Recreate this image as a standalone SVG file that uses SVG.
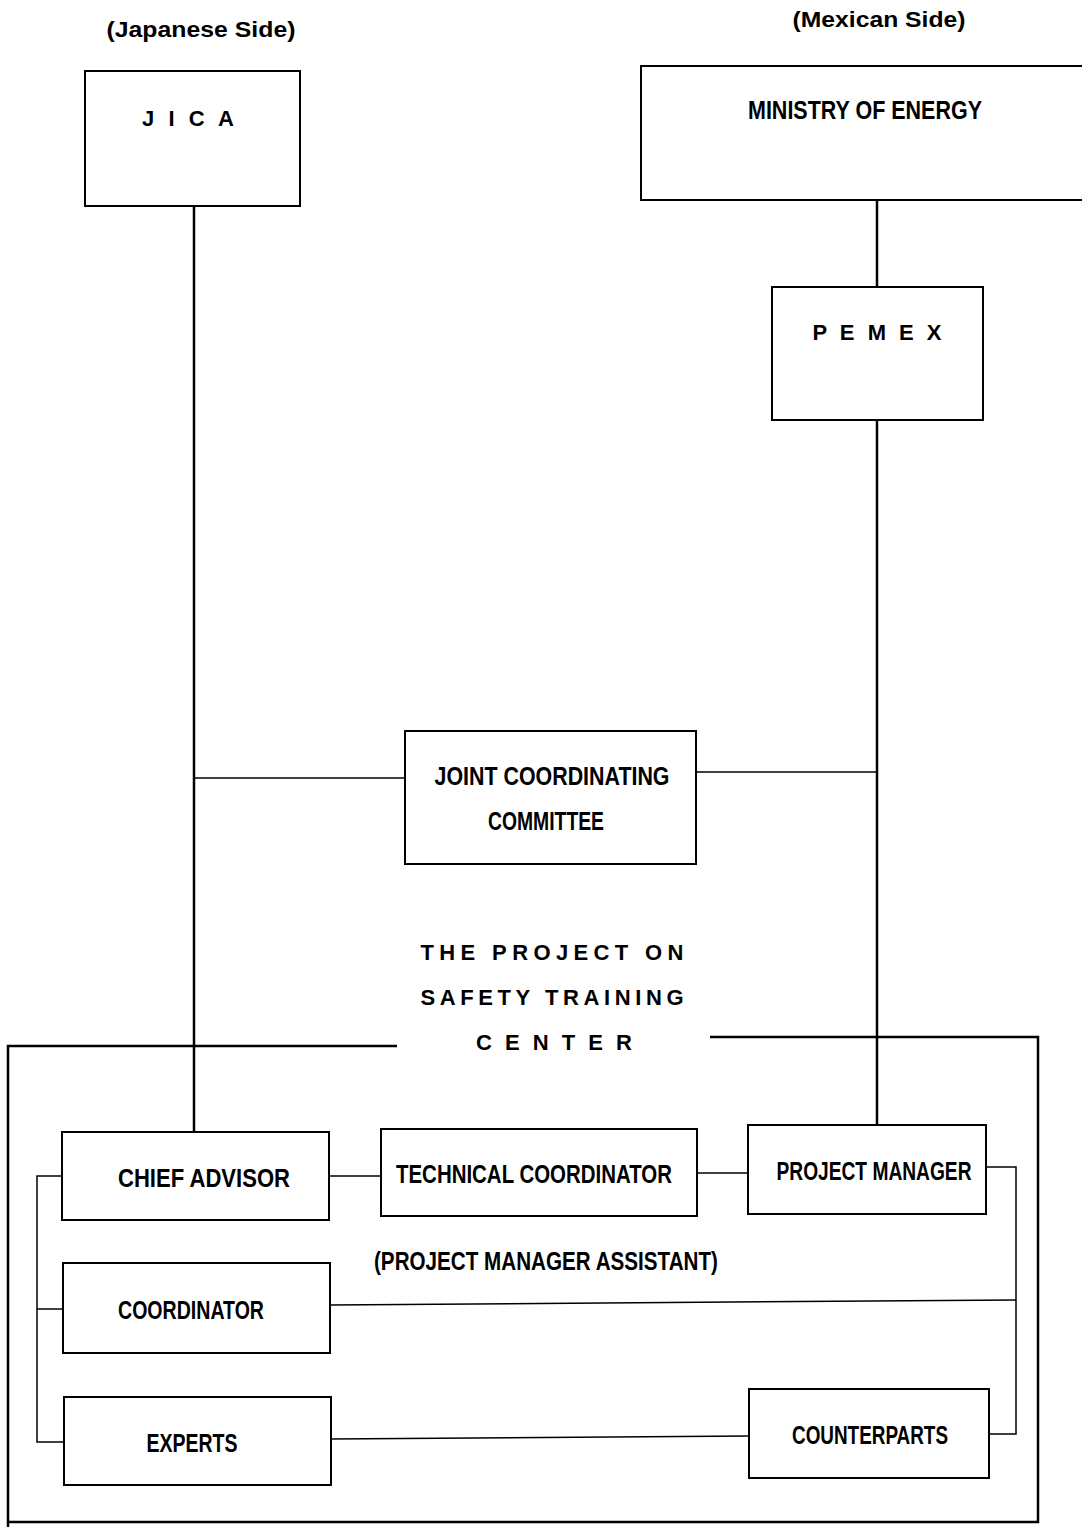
<svg xmlns="http://www.w3.org/2000/svg" width="1082" height="1527" viewBox="0 0 1082 1527">
<style>
.box{fill:#fff;stroke:#000;stroke-width:2}
.t{font-family:"Liberation Sans",Arial,sans-serif;font-weight:bold;font-size:25px;fill:#000;text-anchor:middle}
.s{font-size:22px}
.c{fill:none;stroke:#000;stroke-width:1.5}
.v{fill:none;stroke:#000;stroke-width:2.5}
</style>
<rect width="1082" height="1527" fill="#fff"/>
<g id="labels">
<text class="t s" x="201" y="37" textLength="189" lengthAdjust="spacingAndGlyphs">(Japanese Side)</text>
<text class="t s" x="879" y="27" textLength="173" lengthAdjust="spacingAndGlyphs">(Mexican Side)</text>
<text class="t s" x="552" y="960" textLength="263" lengthAdjust="spacing">THE PROJECT ON</text>
<text class="t s" x="552" y="1005" textLength="263" lengthAdjust="spacing">SAFETY TRAINING</text>
<text class="t s" x="554" y="1050" textLength="156" lengthAdjust="spacing">C E N T E R</text>
<text class="t" x="546" y="1270" textLength="344" lengthAdjust="spacingAndGlyphs">(PROJECT MANAGER ASSISTANT)</text>
</g>
<g id="connectors">
<line class="v" x1="194" y1="206" x2="194" y2="1132"/>
<line class="v" x1="877" y1="200" x2="877" y2="287"/>
<line class="v" x1="877" y1="420" x2="877" y2="1126"/>
<line class="c" x1="194" y1="778" x2="405" y2="778"/>
<line class="c" x1="696" y1="772" x2="877" y2="772"/>
<polyline class="v" points="397,1046 8,1046 8,1527"/>
<polyline class="v" points="710,1037 1038,1037 1038,1522 8,1522"/>
<line class="c" x1="329" y1="1176" x2="381" y2="1176"/>
<line class="c" x1="697" y1="1173" x2="748" y2="1173"/>
<polyline class="c" points="986,1167 1016,1167 1016,1434 989,1434"/>
<line class="c" x1="330" y1="1305" x2="1016" y2="1300"/>
<line class="c" x1="331" y1="1439" x2="749" y2="1436"/>
<polyline class="c" points="62,1176 37,1176 37,1442 64,1442"/>
<line class="c" x1="37" y1="1309" x2="63" y2="1309"/>
</g>
<g id="jica">
<rect class="box" x="85" y="71" width="215" height="135"/>
<text class="t s" x="188" y="126" textLength="92" lengthAdjust="spacing">J I C A</text>
</g>
<g id="ministry">
<rect class="box" x="641" y="66" width="460" height="134"/>
<text class="t" x="865" y="119" textLength="234" lengthAdjust="spacingAndGlyphs">MINISTRY OF ENERGY</text>
</g>
<g id="pemex">
<rect class="box" x="772" y="287" width="211" height="133"/>
<text class="t s" x="877" y="340" textLength="129" lengthAdjust="spacing">P E M E X</text>
</g>
<g id="jcc">
<rect class="box" x="405" y="731" width="291" height="133"/>
<text class="t" x="552" y="785" textLength="235" lengthAdjust="spacingAndGlyphs">JOINT COORDINATING</text>
<text class="t" x="546" y="830" textLength="116" lengthAdjust="spacingAndGlyphs">COMMITTEE</text>
</g>
<g id="chief-advisor">
<rect class="box" x="62" y="1132" width="267" height="88"/>
<text class="t" x="204" y="1187" textLength="172" lengthAdjust="spacingAndGlyphs">CHIEF ADVISOR</text>
</g>
<g id="technical-coordinator">
<rect class="box" x="381" y="1129" width="316" height="87"/>
<text class="t" x="534" y="1183" textLength="276" lengthAdjust="spacingAndGlyphs">TECHNICAL COORDINATOR</text>
</g>
<g id="project-manager">
<rect class="box" x="748" y="1125" width="238" height="89"/>
<text class="t" x="874" y="1180" textLength="195" lengthAdjust="spacingAndGlyphs">PROJECT MANAGER</text>
</g>
<g id="coordinator">
<rect class="box" x="63" y="1263" width="267" height="90"/>
<text class="t" x="191" y="1319" textLength="146" lengthAdjust="spacingAndGlyphs">COORDINATOR</text>
</g>
<g id="experts">
<rect class="box" x="64" y="1397" width="267" height="88"/>
<text class="t" x="192" y="1452" textLength="91" lengthAdjust="spacingAndGlyphs">EXPERTS</text>
</g>
<g id="counterparts">
<rect class="box" x="749" y="1389" width="240" height="89"/>
<text class="t" x="870" y="1444" textLength="156" lengthAdjust="spacingAndGlyphs">COUNTERPARTS</text>
</g>
</svg>
